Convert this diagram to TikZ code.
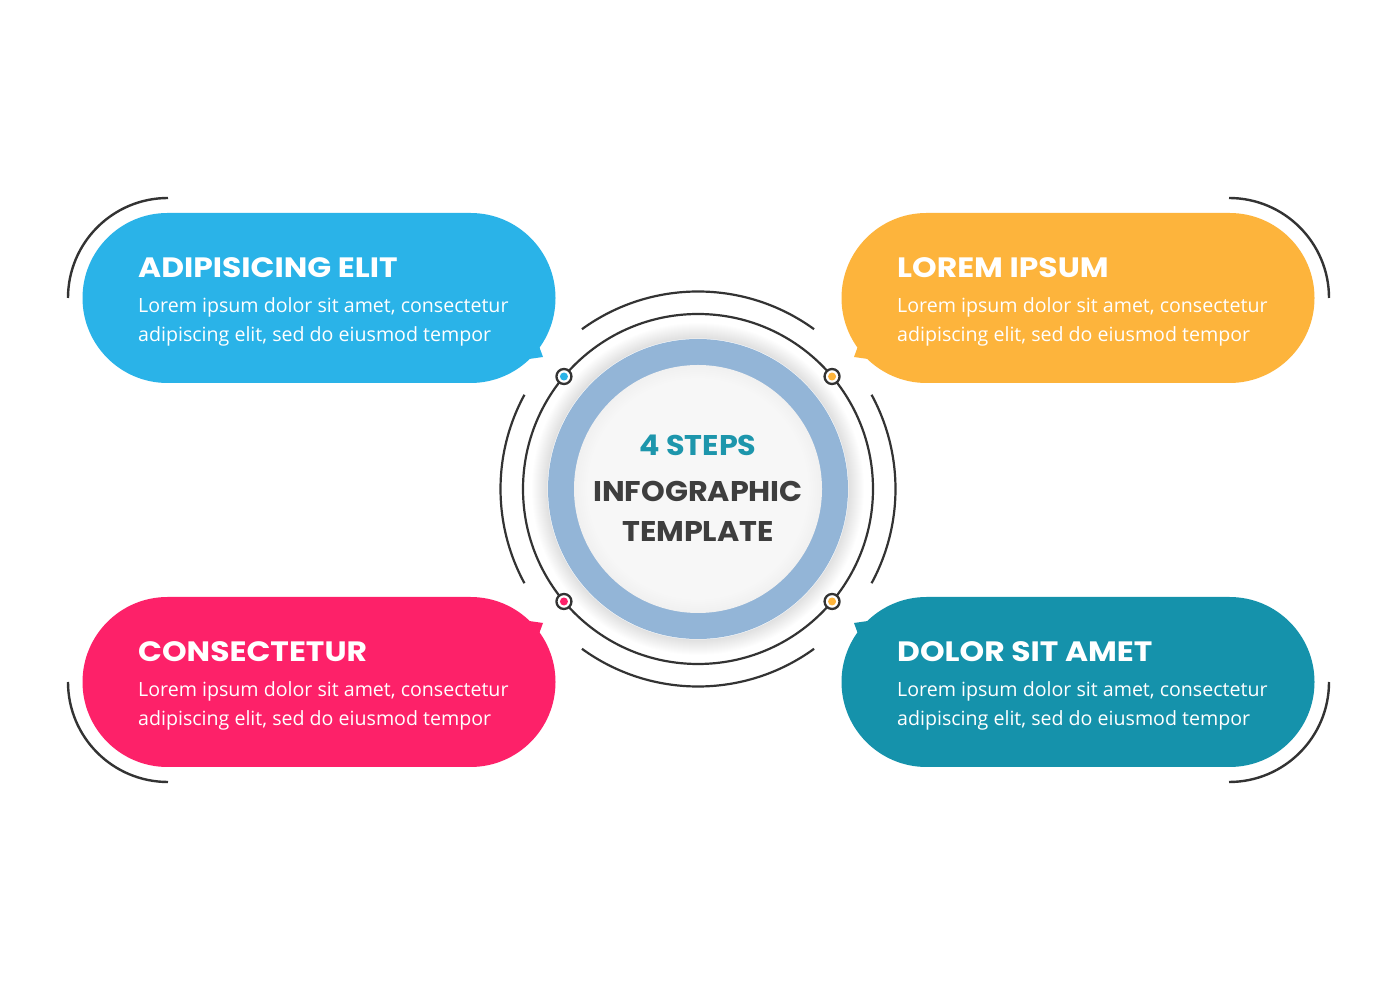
\documentclass[tikz,border=0pt]{standalone}
\usepackage{fontspec}
\setmainfont{Open Sans}
\newfontfamily\titlefont{Poppins}[FakeStretch=1.12]
\newfontfamily\centerfont{Poppins}[FakeStretch=1.06]
\usetikzlibrary{shapes.misc}
\definecolor{cblue}{HTML}{2AB3E8}
\definecolor{corange}{HTML}{FDB43C}
\definecolor{cpink}{HTML}{FD2169}
\definecolor{cteal}{HTML}{1592AB}
\definecolor{cring}{HTML}{93B5D7}
\definecolor{cline}{HTML}{333333}
\definecolor{ctealtxt}{HTML}{1D96AC}
\definecolor{cgraytxt}{HTML}{3E3E3E}
\definecolor{cdisk}{HTML}{F5F5F5}
\begin{document}
\begin{tikzpicture}[x=1pt,y=1pt,
  pill/.style={rounded rectangle, minimum width=473pt, minimum height=170pt, inner sep=0pt, draw=none},
  ttl/.style={anchor=base west, inner sep=0pt, text=white, font=\titlefont\bfseries\fontsize{28}{30}\selectfont},
  bodytxt/.style={anchor=base west, inner sep=0pt, text=white, font=\fontsize{19.6}{24}\selectfont},
  ctxt/.style={anchor=base, inner sep=0pt, font=\centerfont\bfseries\fontsize{28.5}{30}\selectfont},
  thinline/.style={draw=cline, line width=2.2pt},
  boxarc/.style={draw=cline, line width=2.4pt},
  dotring/.style={circle, draw=cline, line width=2.3pt, fill=white, minimum size=15pt, inner sep=0pt},
  dotin/.style={circle, minimum size=8pt, inner sep=0pt}]
\useasboundingbox (0,0) rectangle (1400,980);
\fill[white] (0,0) rectangle (1400,980);

% boxes
\node[pill, fill=cblue] (b1) at (319,682) {};
\node[pill, fill=corange] (b2) at (1078,682) {};
\node[pill, fill=cpink] (b3) at (319,298) {};
\node[pill, fill=cteal] (b4) at (1078,298) {};
% tails
\fill[cblue] (536,642) -- (543,623) -- (522,620) -- cycle;
\fill[corange] (861,642) -- (854,623) -- (875,620) -- cycle;
\fill[cpink] (536,338) -- (543,357) -- (522,360) -- cycle;
\fill[cteal] (861,338) -- (854,357) -- (875,360) -- cycle;
% box arcs
\draw[boxarc] (168,782) arc[start angle=90, end angle=180, radius=100];
\draw[boxarc] (1229,782) arc[start angle=90, end angle=0, radius=100];
\draw[boxarc] (68,298) arc[start angle=180, end angle=270, radius=100];
\draw[boxarc] (1329,298) arc[start angle=0, end angle=-90, radius=100];

% box texts
\node[ttl] (t1) at (138,702) {ADIPISICING ELIT};
\node[bodytxt] (l1a) at (138,667) {Lorem ipsum dolor sit amet, consectetur};
\node[bodytxt] (l1b) at (138,638) {adipiscing elit, sed do eiusmod tempor};
\node[ttl] (t2) at (897,702) {LOREM IPSUM};
\node[bodytxt] (l2a) at (897,667) {Lorem ipsum dolor sit amet, consectetur};
\node[bodytxt] (l2b) at (897,638) {adipiscing elit, sed do eiusmod tempor};
\node[ttl] (t3) at (138,318) {CONSECTETUR};
\node[bodytxt] (l3a) at (138,283) {Lorem ipsum dolor sit amet, consectetur};
\node[bodytxt] (l3b) at (138,254) {adipiscing elit, sed do eiusmod tempor};
\node[ttl] (t4) at (897,318) {DOLOR SIT AMET};
\node[bodytxt] (l4a) at (897,283) {Lorem ipsum dolor sit amet, consectetur};
\node[bodytxt] (l4b) at (897,254) {adipiscing elit, sed do eiusmod tempor};

% centre
\coordinate (C) at (698,491);
\foreach \i in {1,...,16} \fill[black, opacity=0.006] (C) circle (150+\i);
\draw[thinline] (C) circle (175);
\draw[thinline] ([shift={(C)}]54:197.5) arc[start angle=54, end angle=126, radius=197.5];
\draw[thinline] ([shift={(C)}]234:197.5) arc[start angle=234, end angle=306, radius=197.5];
\draw[thinline] ([shift={(C)}]151.5:197.5) arc[start angle=151.5, end angle=208.5, radius=197.5];
\draw[thinline] ([shift={(C)}]-28.5:197.5) arc[start angle=-28.5, end angle=28.5, radius=197.5];
\node[circle, fill=cring, minimum size=300pt, inner sep=0pt] (ring) at (C) {};
\fill[white] (C) circle (150.5);
\fill[cring] (C) circle (150);
\fill[gray!12] (C) circle (124);
\foreach \r in {123,121,...,101} \fill[white, opacity=0.12] (C) circle (\r);
\node[circle, minimum size=248pt, inner sep=0pt] (disk) at (C) {};

\node[ctxt, text=ctealtxt] (s1) at (698,524) {4 STEPS};
\node[ctxt, text=cgraytxt] (s2) at (698,478) {INFOGRAPHIC};
\node[ctxt, text=cgraytxt] (s3) at (698,438) {TEMPLATE};

% dots
\node[dotring] (d1) at ([shift={(C)}]140:175) {};
\node[dotin, fill=cblue] at (d1) {};
\node[dotring] (d2) at ([shift={(C)}]40:175) {};
\node[dotin, fill=corange] at (d2) {};
\node[dotring] (d3) at ([shift={(C)}]220:175) {};
\node[dotin, fill=cpink] at (d3) {};
\node[dotring] (d4) at ([shift={(C)}]320:175) {};
\node[dotin, fill=corange] at (d4) {};
\end{tikzpicture}
\end{document}
